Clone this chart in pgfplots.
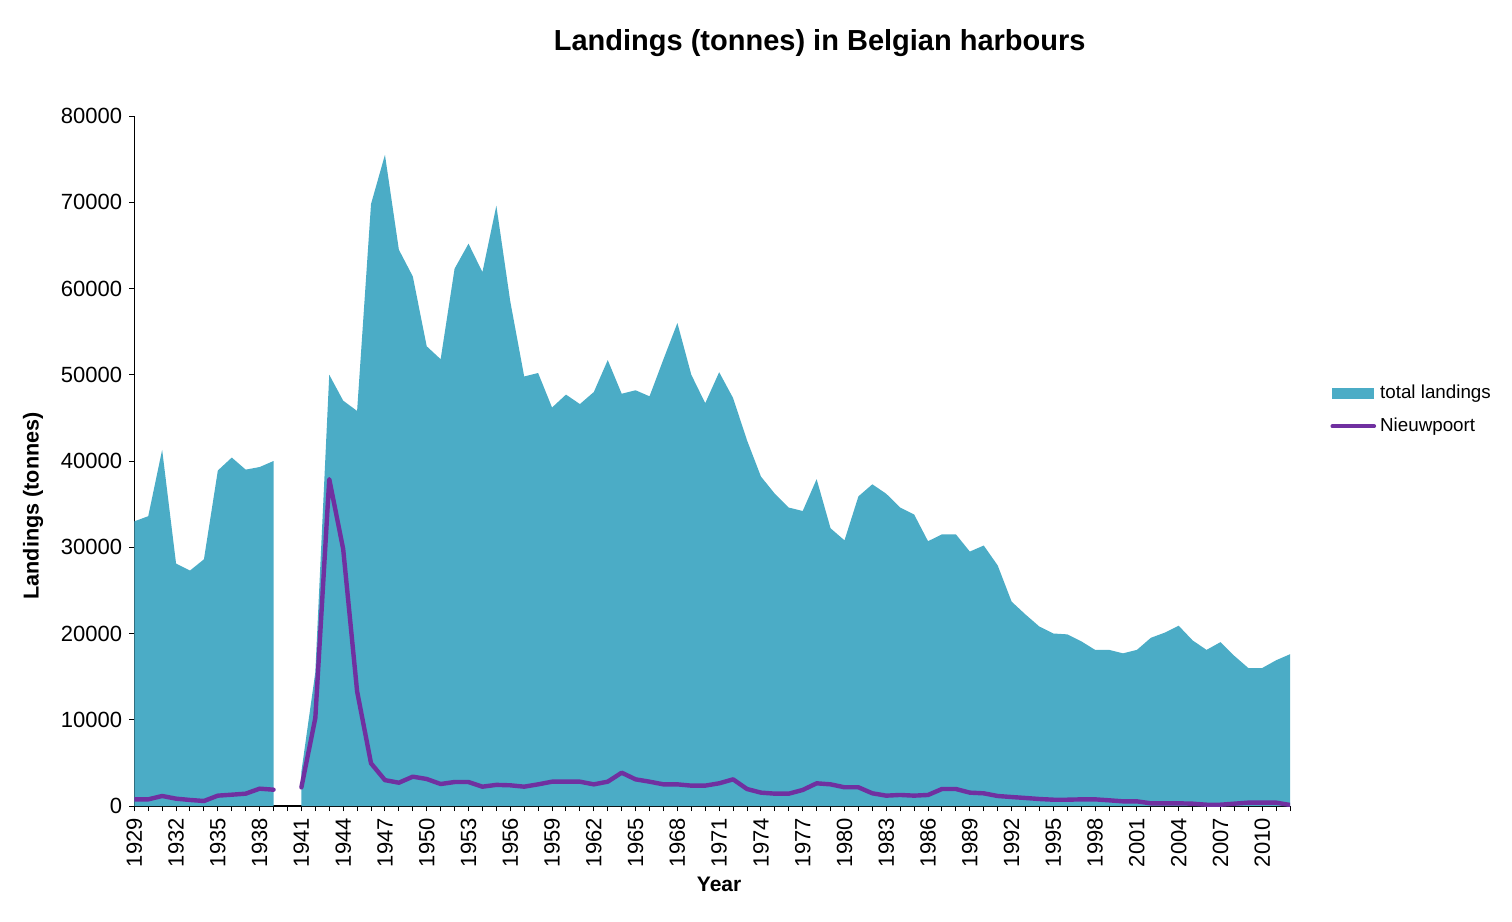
\documentclass[border=0pt]{standalone}
\usepackage{fontspec}
\setmainfont{Liberation Sans}
\usepackage{pgfplots}
\pgfplotsset{compat=1.18}
\usepackage{pgfplotstable}
\definecolor{areacol}{HTML}{4BACC6}
\definecolor{linecol}{HTML}{7030A0}

\pgfplotstableread{
year total
1929 33000
1930 33600
1931 41300
1932 28100
1933 27300
1934 28600
1935 38900
1936 40400
1937 39000
1938 39300
1939 40000
}\totalA

\pgfplotstableread{
year total
1941 4000
1942 15500
1943 50000
1944 47000
1945 45800
1946 69800
1947 75500
1948 64500
1949 61400
1950 53300
1951 51800
1952 62300
1953 65200
1954 61900
1955 69600
1956 58500
1957 49800
1958 50200
1959 46200
1960 47700
1961 46600
1962 48000
1963 51700
1964 47800
1965 48200
1966 47500
1967 51800
1968 56000
1969 50000
1970 46700
1971 50300
1972 47300
1973 42400
1974 38200
1975 36200
1976 34600
1977 34200
1978 37900
1979 32200
1980 30800
1981 35900
1982 37300
1983 36200
1984 34600
1985 33800
1986 30700
1987 31500
1988 31500
1989 29500
1990 30200
1991 27900
1992 23700
1993 22200
1994 20800
1995 20000
1996 19900
1997 19100
1998 18100
1999 18100
2000 17700
2001 18100
2002 19500
2003 20100
2004 20900
2005 19200
2006 18100
2007 19000
2008 17400
2009 16000
2010 16000
2011 16900
2012 17600
}\totalB

\pgfplotstableread{
year nieuwpoort
1929 770
1930 770
1931 1160
1932 850
1933 700
1934 580
1935 1200
1936 1310
1937 1430
1938 2010
1939 1890
1940 nan
1941 2160
1942 10200
1943 37900
1944 29800
1945 13300
1946 4950
1947 3000
1948 2700
1949 3400
1950 3130
1951 2550
1952 2780
1953 2780
1954 2240
1955 2450
1956 2400
1957 2240
1958 2510
1959 2820
1960 2820
1961 2820
1962 2510
1963 2820
1964 3860
1965 3090
1966 2820
1967 2510
1968 2510
1969 2360
1970 2360
1971 2630
1972 3090
1973 1970
1974 1550
1975 1430
1976 1430
1977 1860
1978 2630
1979 2510
1980 2170
1981 2170
1982 1470
1983 1200
1984 1280
1985 1200
1986 1280
1987 1970
1988 1970
1989 1550
1990 1470
1991 1160
1992 1040
1993 930
1994 810
1995 730
1996 730
1997 770
1998 770
1999 660
2000 540
2001 540
2002 310
2003 310
2004 310
2005 270
2006 150
2007 150
2008 270
2009 390
2010 390
2011 390
2012 120
}\nieuw

\begin{document}
\begin{tikzpicture}
\useasboundingbox (-67.15pt,-58pt) rectangle (688.85pt,403pt);
\begin{axis}[
  scale only axis,
  width=577.9pt, height=345pt,
  xmin=1929, xmax=2012,
  ymin=0, ymax=80000,
  axis x line*=bottom,
  axis y line*=left,
  axis line style={line width=0.6pt, black},
  xtick={1929,1932,...,2010},
  minor xtick={1929,1930,...,2012},
  ytick={0,10000,...,80000},
  tick style={black, line width=0.5pt},
  major tick length=2.6pt,
  minor tick length=2.6pt,
  tick align=outside,
  scaled ticks=false,
  /pgf/number format/1000 sep={},
  /pgf/number format/assume math mode=true,
  tick label style={font=\fontsize{11}{13}\selectfont},
  xticklabel style={rotate=90, anchor=east, /pgf/number format/1000 sep={}},
  xticklabel={\pgfmathprintnumber[1000 sep={},fixed]{\tick}},
  unbounded coords=jump,
  title={Landings (tonnes) in Belgian harbours},
  title style={at={(rel axis cs:0.593,1)}, anchor=center, yshift=30.5pt, font=\bfseries\fontsize{14.5}{17}\selectfont},
  xlabel={Year},
  ylabel={Landings (tonnes)},
  every axis x label/.style={at={(rel axis cs:0.506,0)}, anchor=center, yshift=-39pt, font=\bfseries\fontsize{10.5}{12}\selectfont},
  every axis y label/.style={at={(rel axis cs:0,0.435)}, anchor=center, rotate=90, yshift=50.65pt, font=\bfseries\fontsize{10.8}{12}\selectfont},
  legend style={draw=none, fill=none, at={(rel axis cs:1,0.574)}, anchor=west, xshift=17pt,
    font=\fontsize{9.4}{11}\selectfont, row sep=4pt},
  legend cell align=left,
]
\addplot[fill=areacol, draw=none,
  legend image code/.code={\fill[areacol] (0pt,-2.7pt) rectangle (21pt,2.7pt);}]
  table[x=year, y=total] {\totalA} \closedcycle;
\addlegendentry{total landings}
\addplot[fill=areacol, draw=none, forget plot]
  table[x=year, y=total] {\totalB} \closedcycle;
\addplot[linecol, line width=2.2pt, line join=round, line cap=round, mark=none,
  legend image code/.code={\draw[linecol, line width=1.8pt] (0pt,0pt) -- (21pt,0pt);}]
  table[x=year, y=nieuwpoort] {\nieuw};
\addlegendentry{Nieuwpoort}
\end{axis}
\end{tikzpicture}
\end{document}
